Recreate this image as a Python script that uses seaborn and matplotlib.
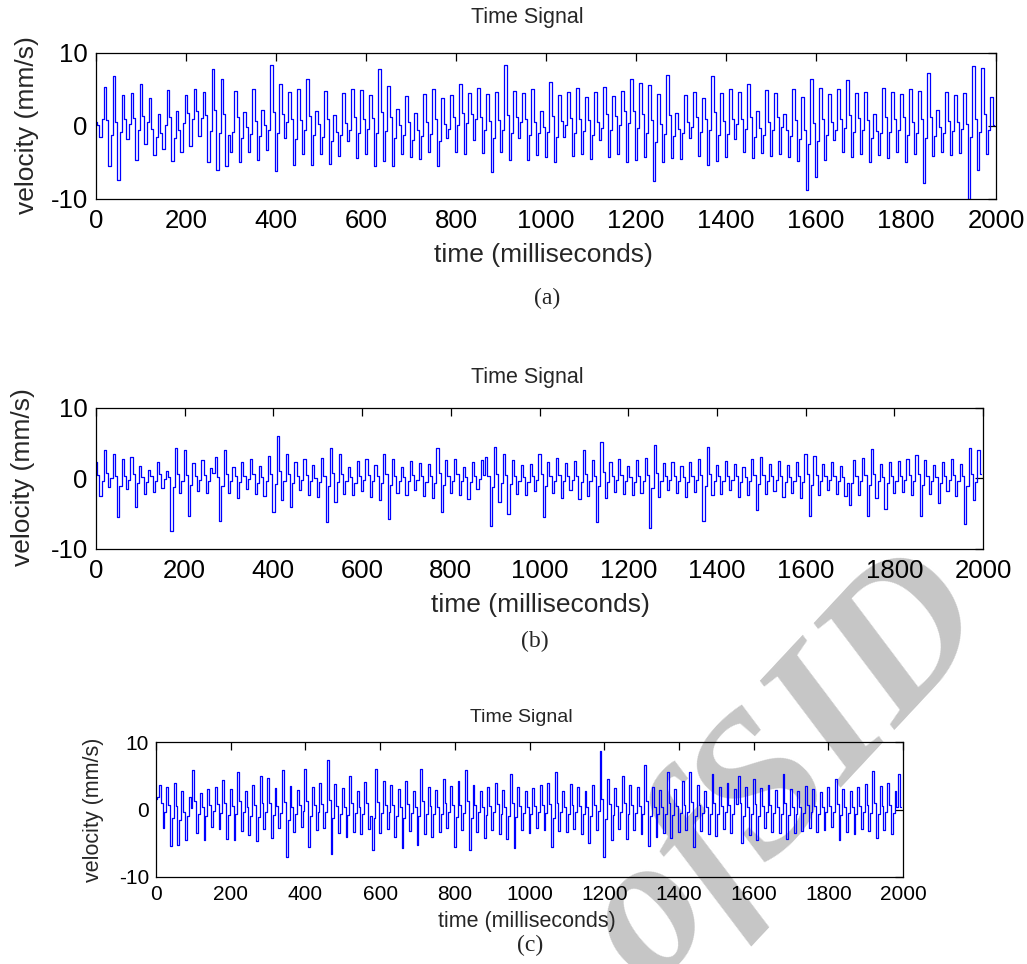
import matplotlib
matplotlib.use("Agg")
import matplotlib.pyplot as plt
import numpy as np
import pandas as pd
import seaborn as sns

# ---------------- data (velocity in mm/s, sampled every 5 ms) ----------------
TIME_MS = list(range(0, 2000, 5))
X_TICKS = [0, 200, 400, 600, 800, 1000, 1200, 1400, 1600, 1800, 2000]
Y_TICKS = [-10, 0, 10]
TITLE = "Time Signal"
X_LABEL = "time (milliseconds)"
Y_LABEL = "velocity (mm/s)"
PANEL_TAGS = ["(a)", "(b)", "(c)"]

VEL_A = [
    0.5, 0.2, -1.5, 1.0, 5.3, 0.8, -5.5, -1.2, 6.8, 0.5, -7.4, -0.8, 4.2, 0.9, -1.8, 0.3, 4.5, 1.1, -4.6, -0.6,
    5.8, 1.4, -2.5, 0.6, 3.8, -0.4, -4.0, -1.5, 1.6, -0.9, -3.2, 0.2, 4.9, 1.2, -4.8, -1.7, 2.1, -0.5, -3.5, 0.4,
    4.2, 1.8, -2.8, 0.9, 5.0, 2.0, -1.4, 1.1, 4.6, 1.5, -5.0, -0.7, 7.8, 2.2, -6.0, -1.0, 6.5, 1.6, -5.5, -1.3,
    -3.6, -0.8, 4.8, 1.3, -4.9, -1.6, 1.9, -0.2, -3.5, -1.1, 5.1, 0.7, -4.6, -1.4, 2.2, 0.1, -3.3, -0.6, 8.3, 1.9,
    -6.2, -0.9, 5.8, 1.7, -1.7, 0.6, 4.6, 1.0, -5.4, -1.8, 5.0, 0.8, -3.8, -0.5, 6.5, 1.4, -5.4, -1.2, 2.0, 0.3,
    -3.9, -1.5, 4.8, 0.9, -5.2, -2.0, 1.5, -0.8, -4.1, -1.3, 4.5, 0.4, -2.0, -0.6, 5.0, 1.2, -4.4, -0.9, 4.9, 1.0,
    -3.8, -0.4, 4.3, 1.1, -5.5, -1.0, 7.8, 1.9, -4.8, -0.7, 5.5, 1.3, -5.5, -1.6, 2.3, 0.2, -3.9, -1.2, 4.1, 0.6,
    -4.3, -1.9, 1.8, -0.6, -4.5, -1.4, 4.4, 0.5, -3.6, -1.1, 5.0, 1.0, -5.5, -2.1, 3.8, 0.3, -1.6, -0.4, 4.3, 1.2,
    -3.5, 0.2, 5.8, 1.8, -3.9, 0.4, 4.5, 1.6, -1.9, 0.9, 5.2, 1.3, -3.7, -0.5, 4.4, 0.7, -6.3, -1.7, 4.7, 0.8,
    -3.5, -0.6, 8.3, 1.5, -4.6, -0.9, 4.8, 1.2, -1.6, 0.5, 4.5, 0.9, -4.7, -1.3, 5.0, 0.6, -4.0, -1.0, 2.1, -0.2,
    -4.2, -0.8, 6.0, 1.4, -5.0, -1.5, 4.3, 0.7, -1.5, 0.2, 4.7, 1.1, -4.1, -0.9, 5.2, 1.0, -3.8, -0.7, 4.0, 0.8,
    -4.5, -1.2, 4.6, 0.5, -1.9, -0.3, 5.3, 1.7, -4.2, -0.6, 4.1, 1.4, -3.9, 0.2, 4.8, 2.0, -5.0, 0.4, 6.5, 2.1,
    -4.6, -0.3, 5.9, 1.6, -4.3, -0.9, 5.6, 0.8, -7.6, -2.2, 4.4, 0.3, -5.0, -1.1, 7.0, 1.5, -4.4, -1.4, 1.8, -0.4,
    -4.5, -1.0, 4.2, 0.6, -1.6, -0.1, 4.7, 1.2, -4.1, -0.8, 3.9, 0.9, -5.3, -0.6, 6.8, 1.9, -4.8, -1.3, 4.5, 0.7,
    -4.2, -1.1, 5.0, 0.9, -1.8, 0.3, 4.6, 1.0, -3.5, -0.4, 5.8, 1.2, -4.4, -1.5, 2.0, -0.3, -3.7, -1.2, 4.9, 0.6,
    -4.1, -0.5, 4.5, 1.3, -3.8, -0.2, 1.7, -0.6, -4.3, -1.4, 5.1, 0.8, -4.8, -1.8, 4.0, -0.5, -8.8, -2.4, 6.5, 0.4,
    -7.0, -2.0, 5.2, 0.9, -4.6, -1.3, 4.4, 0.5, -1.9, -0.5, 5.0, 1.0, -3.6, -0.3, 6.3, 1.5, -4.2, -0.8, 4.5, 1.1,
    -3.9, -0.6, 4.7, 0.8, -4.9, -1.7, 1.6, -0.7, -4.0, -1.0, 5.2, 1.2, -4.4, -0.8, 4.6, 0.9, -3.6, -0.5, 4.4, 1.3,
    -5.0, -1.2, 5.0, 0.6, -3.8, -0.9, 4.8, 1.0, -7.8, -1.6, 7.3, 1.2, -4.1, -1.4, 2.2, -0.2, -3.6, -0.9, 4.6, 0.7,
    -4.0, -0.7, 4.3, 0.5, -3.7, -0.4, 4.5, 0.3, -10.0, -1.5, 8.2, 1.0, -6.0, -0.8, 8.0, 1.6, -3.8, -0.5, 4.0, 0.2,
]

VEL_B = [
    2.4, 0.5, -2.5, -0.3, 4.1, 0.8, -1.2, 0.1, 3.5, 0.4, -5.4, -1.0, 2.8, 0.3, -1.5, -0.2, 3.0, 0.6, -4.0, -0.7,
    1.8, 0.2, -2.2, -0.5, 1.2, 0.3, -1.9, -0.4, 2.3, 0.6, -1.4, -0.1, 1.1, 0.2, -7.5, -1.2, 4.3, 0.7, -2.0, -0.3,
    4.0, 0.5, -5.3, -0.9, 2.2, 0.4, -1.8, -0.2, 2.6, 0.5, -2.1, -0.3, 1.5, 0.8, 3.0, 0.2, -6.0, -1.1, 4.0, 0.6,
    -2.1, -0.4, 1.6, 0.3, -2.7, -0.5, 2.3, 0.4, -1.5, -0.1, 2.8, 0.6, -2.2, -0.6, 1.8, 0.2, -2.5, -0.3, 3.2, 0.7,
    -4.8, -0.8, 6.0, 1.0, -3.0, -0.4, 3.5, 0.6, -4.0, -0.7, 2.4, 0.3, -1.7, -0.2, 2.8, 0.5, -2.3, -0.4, 1.9, 0.1,
    -2.6, -0.5, 2.9, 0.4, -6.2, -1.0, 4.3, 0.8, -3.3, -0.5, 3.5, 0.6, -2.2, -0.3, 1.7, 0.2, -2.4, -0.6, 2.5, 0.4,
    -1.8, -0.2, 2.7, 0.5, -2.6, -0.4, 1.9, 0.3, -3.0, -0.6, 3.5, 0.7, -5.7, -0.9, 2.8, 0.4, -2.1, -0.3, 1.6, 0.2,
    -2.3, -0.4, 2.5, 0.5, -1.6, -0.2, 2.2, 0.3, -2.5, -0.5, 2.0, 0.4, -2.7, -0.6, 4.3, 0.8, -4.7, -0.9, 2.6, 0.3,
    -2.0, -0.3, 2.8, 0.6, -2.4, -0.4, 1.7, 0.2, -2.9, -0.5, 2.3, 0.4, -1.5, -0.1, 2.6, 0.5, 3.0, 0.4, -6.8, -1.2,
    4.5, 0.7, -3.4, -0.6, 3.5, 0.5, -5.0, -0.8, 2.6, 0.3, -2.2, -0.4, 1.9, 0.2, -2.4, -0.5, 2.1, 0.3, -1.8, -0.2,
    3.5, 0.6, -5.5, -1.0, 2.4, 0.4, -2.0, -0.3, 2.9, 0.5, -2.7, -0.4, 2.2, 0.3, -1.6, -0.2, 2.5, 0.4, -2.9, -0.5,
    4.0, 0.7, -2.5, -0.3, 2.6, 0.4, -6.2, -1.1, 5.2, 0.9, -2.8, -0.5, 2.3, 0.3, -1.9, -0.2, 2.7, 0.5, -2.2, -0.4,
    1.8, 0.2, -2.4, -0.5, 2.6, 0.4, -2.0, -0.3, 2.9, 0.5, -7.0, -1.3, 4.8, 0.8, -2.6, -0.4, 2.2, 0.3, -1.7, -0.2,
    2.4, 0.4, -2.1, -0.3, 1.8, 0.2, -2.6, -0.5, 2.3, 0.4, -1.9, -0.2, 2.8, 0.5, -6.0, -1.0, 4.5, 0.7, -2.4, -0.4,
    1.9, 0.3, -2.2, -0.4, 2.5, 0.4, -1.7, -0.2, 2.1, 0.3, -2.6, -0.5, 1.6, 0.2, -2.3, -0.4, 2.7, 0.5, -4.5, -0.8,
    3.0, 0.5, -2.2, -0.3, 2.0, 0.3, -1.8, -0.2, 2.5, 0.4, -2.6, -0.5, 1.9, 0.2, -2.1, -0.3, 2.3, 0.4, -2.8, -0.5,
    3.5, 0.6, -5.3, -0.9, 3.2, 0.5, -2.4, -0.4, 2.0, 0.3, -1.7, -0.2, 2.4, 0.4, -2.2, -0.3, 1.8, 0.2, -2.5, -0.6,
    -3.7, -0.7, 2.6, 0.4, -2.3, -0.3, 2.9, 0.5, -5.3, -0.9, 4.2, 0.7, -2.7, -0.4, 2.0, 0.2, -4.3, -0.7, 2.4, 0.3,
    -2.1, -0.3, 2.5, 0.4, -1.9, -0.2, 2.8, 0.5, -2.4, -0.4, 3.4, 0.6, -5.3, -0.9, 2.6, 0.4, -2.2, -0.3, 1.9, 0.2,
    -3.5, -0.6, 2.3, 0.3, -1.8, -0.2, 2.7, 0.5, -2.5, -0.4, 2.1, 0.3, -6.4, -1.1, 4.3, 0.7, -3.0, -0.5, 4.0, 0.6,
]

VEL_C = [
    1.5, 1.8, 3.6, 0.9, -2.8, -0.4, 3.3, 0.7, -5.4, -1.2, 4.0, 0.5, -5.3, -1.5, 2.8, -0.3, -4.5, -1.0, 1.8, 0.2,
    5.8, 1.3, -3.5, -0.6, 2.5, 0.4, -4.5, -0.9, 3.0, 0.6, -2.6, -0.2, 3.4, 0.8, -2.9, -0.5, 4.4, 1.0, -4.3, -0.8,
    3.1, 0.5, -4.5, -0.7, 5.5, 1.2, -3.2, -0.4, 2.7, 0.3, -3.8, -0.9, 3.6, 0.6, -4.7, -1.1, 5.0, 0.9, -2.9, -0.3,
    4.6, 1.0, -4.2, -0.8, 3.2, 0.5, -2.7, -0.5, 5.8, 1.1, -7.0, -1.6, 3.5, 0.4, -3.4, -0.7, 2.9, 0.6, -2.6, -0.2,
    6.0, 1.2, -5.6, -1.0, 3.4, 0.6, -3.1, -0.4, 4.0, 0.8, -2.8, -0.3, 7.3, 1.4, -6.6, -1.3, 3.8, 0.5, -3.5, -0.6,
    3.2, 0.4, -4.0, -0.8, 5.0, 1.0, -3.3, -0.5, 2.8, 0.3, -3.7, -0.7, 4.1, 0.9, -2.9, -1.0, -6.0, -1.3, 6.0, 1.1,
    -3.5, -0.5, 4.2, 0.7, -2.9, -0.4, 3.6, 0.6, -4.1, -0.9, 3.0, 0.3, -5.7, -1.2, 4.2, 0.8, -3.2, -0.5, 2.7, 0.4,
    -5.2, -1.0, 6.0, 1.3, -3.6, -0.6, 3.3, 0.5, -4.0, -0.7, 2.9, 0.4, -3.4, -0.6, 4.5, 0.9, -2.8, -0.3, 3.5, 0.6,
    -5.5, -1.1, 4.2, 0.7, -3.1, -0.5, 5.8, 1.2, -6.0, -1.3, 3.7, 0.6, -3.3, -0.4, 2.8, 0.3, -4.2, -0.8, 3.4, 0.5,
    -3.0, -0.4, 4.0, 0.8, -3.6, -0.6, 2.9, 0.3, -4.4, -0.9, 5.3, 1.0, -5.7, -1.1, 3.4, 0.5, -3.1, -0.5, 2.8, 0.4,
    -3.5, -0.6, 3.2, 0.5, -2.8, -0.3, 3.6, 0.7, -3.0, -0.5, 4.0, 0.8, -5.5, -1.2, 5.5, 1.0, -3.2, -0.4, 2.7, 0.3,
    -3.4, -0.6, 3.8, 0.7, -2.9, -0.4, 3.3, 0.5, -3.7, -0.7, 2.8, 0.3, -5.0, -1.0, 3.6, 0.6, -3.1, -0.2, 8.6, 1.5,
    -7.1, -1.4, 4.5, 0.8, -4.5, -0.8, 3.2, 0.5, -2.9, -0.4, 5.0, 0.9, -4.3, -0.7, 3.6, 0.6, -3.0, -0.5, 3.4, 0.5,
    -3.6, -0.6, 6.6, 1.3, -5.4, -1.0, 3.3, 0.4, -4.0, -0.7, 2.9, 0.4, -3.5, -0.6, 5.5, 1.0, -4.2, -0.8, 3.1, 0.5,
    -3.4, -0.5, 4.2, 0.7, -3.0, -0.4, 5.5, 1.1, -5.5, -1.0, 3.6, 0.6, -3.2, -0.5, 2.8, 0.3, -3.7, -0.6, 5.3, 1.0,
    -3.9, -0.7, 3.4, 0.5, -2.9, -0.4, 4.0, 0.7, -3.5, -0.6, 3.1, 0.8, 5.0, 0.9, -5.0, -1.0, 3.3, 0.4, -3.8, -0.7,
    4.5, 0.8, -4.5, -0.9, 3.2, 0.5, -2.8, -0.3, 3.7, 0.6, -3.3, -0.5, 2.9, 0.4, -3.5, -0.6, 5.3, 1.0, -4.4, -0.8,
    3.0, 0.4, -3.5, -0.6, 2.8, 0.3, -3.2, -0.5, 3.5, 0.6, -2.7, -0.3, 3.1, 0.5, -3.4, -0.6, 2.6, 0.3, -3.0, -0.4,
    3.3, 0.5, -2.6, -0.3, 4.5, 0.8, -4.5, -0.8, 3.0, 0.4, -3.3, -0.5, 2.7, 0.3, -3.6, -0.6, 3.4, 0.5, -2.9, -0.4,
    3.8, 0.6, -3.2, -0.5, 5.7, 1.0, -4.2, -0.7, 3.5, 0.5, -3.0, -0.4, 3.9, 0.7, -3.6, -0.5, 2.8, 0.4, 5.2, 0.3,
]

# ---------------- figure ----------------
sns.set_style("white")
plt.rcParams['font.family'] = ['Liberation Sans', 'DejaVu Sans']
plt.rcParams['axes.unicode_minus'] = False

W, H = 1027, 964
fig = plt.figure(figsize=(W / 100, H / 100), dpi=100)


def fx(x):
    return x / W


def fy(y):
    return 1 - y / H


panels = [
    dict(v=VEL_A, box=(96, 53, 996, 199), fs=18.5, lfs=19, tfs=15.5, title=(527, 18), xl=(543, 255),
         yl=(27, 125), tag=(547, 298), tpad=7, ypad=6),
    dict(v=VEL_B, box=(96, 408, 983, 549), fs=18.5, lfs=19, tfs=15.5, title=(527, 378), xl=(540, 605),
         yl=(23, 477), tag=(535, 641), tpad=7, ypad=6),
    dict(v=VEL_C, box=(156, 742, 903, 877), fs=15, lfs=15.5, tfs=14, title=(521, 718), xl=(527, 921),
         yl=(93, 810), tag=(530, 945), tpad=6, ypad=5),
]

for p, tag in zip(panels, PANEL_TAGS):
    l, t, r, b = p["box"]
    ax = fig.add_axes([fx(l), fy(b), (r - l) / W, (b - t) / H])
    ax.set_facecolor("none")
    df = pd.DataFrame({"time": TIME_MS, "velocity": p["v"]})
    sns.lineplot(data=df, x="time", y="velocity", ax=ax, color="#0000ff",
                 linewidth=0.9, estimator=None, drawstyle="steps-mid")
    ax.set_xlim(0, 2000)
    ax.set_ylim(-10, 10)
    ax.set_xticks(X_TICKS)
    ax.set_yticks(Y_TICKS)
    ax.set_xlabel("")
    ax.set_ylabel("")
    ax.tick_params(direction="in", top=True, right=True, length=6, width=0.9,
                   labelsize=p["fs"], colors="black")
    ax.tick_params(axis="x", pad=p["tpad"])
    ax.tick_params(axis="y", pad=p["ypad"])
    for s in ax.spines.values():
        s.set_color("black")
        s.set_linewidth(0.9)
    fig.text(fx(p["title"][0]), fy(p["title"][1]), TITLE, fontsize=p["tfs"],
             ha="center", va="center")
    fig.text(fx(p["xl"][0]), fy(p["xl"][1]), X_LABEL, fontsize=p["lfs"],
             ha="center", va="center")
    fig.text(fx(p["yl"][0]), fy(p["yl"][1]), Y_LABEL, fontsize=p["lfs"],
             ha="center", va="center", rotation=90)
    fig.text(fx(p["tag"][0]), fy(p["tag"][1]), tag, fontsize=17,
             family=["Liberation Serif", "DejaVu Serif"], ha="center", va="center")

# watermark
fig.text(fx(787), fy(770), "ofSID", fontsize=145, family=["Liberation Serif", "DejaVu Serif"],
         weight="bold", style="italic", color="#c6c6c6", rotation=47,
         ha="center", va="center", rotation_mode="anchor", zorder=-1)

fig.savefig("out.png", dpi=100, facecolor="white")
